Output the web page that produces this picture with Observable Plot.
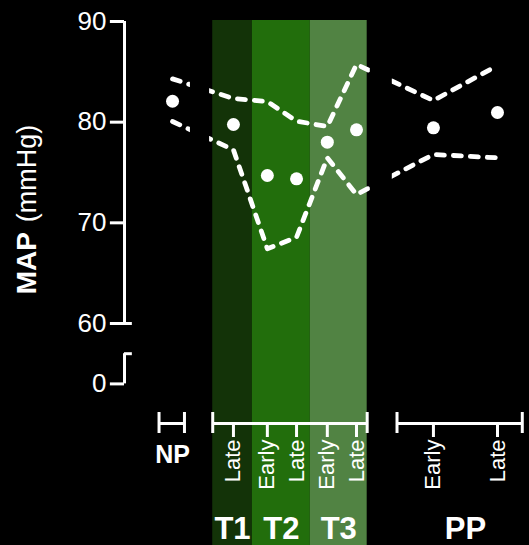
<!DOCTYPE html>
<html><head><meta charset="utf-8">
<script src="https://cdn.jsdelivr.net/npm/d3@7"></script>
<script src="https://cdn.jsdelivr.net/npm/@observablehq/plot@0.6"></script>
<style>html,body{margin:0;padding:0;background:#000;}</style>
</head><body><div id="chart"></div>
<script>
// ---- data ----
const stages = ["NP", "T1 Late", "T2 Early", "T2 Late", "T3 Early", "T3 Late", "PP Early", "PP Late"];
const tickLabels = ["", "Late", "Early", "Late", "Early", "Late", "Early", "Late"];
const groups = ["NP", "T1", "T2", "T2", "T3", "T3", "PP", "PP"];
const position = [1.53, 3.47, 4.55, 5.48, 6.46, 7.39, 9.84, 11.88];
const meanMAP = [82.08, 79.77, 74.70, 74.37, 78.01, 79.24, 79.44, 80.96];
const upperMAP = [84.3, 82.35, 82.05, 80.1, 79.57, 85.73, 82.15, 85.63];
const lowerMAP = [80.07, 77.25, 67.42, 68.57, 76.46, 72.81, 76.79, 76.46];
const trimesters = ["T1", "T2", "T3"];
const trimesterStart = [2.81, 4.07, 5.92];
const trimesterEnd = [4.07, 5.92, 7.73];
const trimesterColors = ["#133308", "#226e0c", "#518343"];
const yTicks = [0, 60, 70, 80, 90];
const yBreak = 5;
const axisSegStart = [1.10, 2.81, 8.68];
const axisSegEnd = [1.91, 7.73, 12.67];
const maskStart = [2.10, 7.83];
const maskEnd = [2.71, 8.53];

// ---- tables ----
const rows = stages.map((s, i) => ({stage: s, pos: position[i], mean: meanMAP[i], upper: upperMAP[i], lower: lowerMAP[i], tick: tickLabels[i], group: groups[i]}));
const bands = trimesters.map((t, i) => ({t, x1: trimesterStart[i], x2: trimesterEnd[i], color: trimesterColors[i]}));
const segments = axisSegStart.map((s, i) => ({x1: s, x2: axisSegEnd[i]}));
const caps = segments.flatMap(s => [s.x1, s.x2]);
const masks = maskStart.map((s, i) => ({x1: s, x2: maskEnd[i]}));
const axisTicks = rows.filter(r => r.tick);
const npLabel = [{text: "NP", x: position[0]}];
const bigLabels = [
  ...bands.map(b => ({text: b.t, x: (b.x1 + b.x2) / 2})),
  {text: "PP", x: d3.mean(rows.filter(r => r.group === "PP"), r => r.pos)}
];

// broken y axis: 0..yBreak is squeezed just below 60
const brokenY = v => (v >= 60 ? v : 54 + v * 3 / yBreak);

const white = "#fff";
const lineStyle = {stroke: white, strokeWidth: 4.8, strokeDasharray: "8,9", strokeLinecap: "round", strokeLinejoin: "round"};

const chart = Plot.plot({
  width: 529, height: 545,
  marginTop: 20, marginBottom: 0, marginLeft: 124, marginRight: 0,
  style: {background: "#000", color: white, fontFamily: "'Liberation Sans', Arial, sans-serif"},
  x: {domain: [0, 12.9], axis: null},
  y: {domain: [60, 90], range: [323, 21], transform: brokenY, axis: null},
  marks: [
    Plot.rect(bands, {x1: "x1", x2: "x2", fill: "color"}),
    Plot.line(rows, {x: "pos", y: "upper", ...lineStyle}),
    Plot.line(rows, {x: "pos", y: "lower", ...lineStyle}),
    Plot.rect(masks, {x1: "x1", x2: "x2", fill: "#000"}),
    Plot.dot(rows, {x: "pos", y: "mean", r: 6.5, fill: white}),
    // y axis
    Plot.ruleY(yTicks, {y: d => d, x1: -0.45, x2: 0, stroke: white, strokeWidth: 3}),
    Plot.text(yTicks, {y: d => d, text: d => String(d), frameAnchor: "left", dx: -18, textAnchor: "end", lineAnchor: "middle", fontSize: 26, fill: white}),
    Plot.ruleX([{y1: 60, y2: 90}, {y1: 0, y2: yBreak}], {x: 0, y1: "y1", y2: "y2", stroke: white, strokeWidth: 3}),
    Plot.ruleY([60, yBreak], {x1: 0, x2: 0.25, stroke: white, strokeWidth: 3}),
    // x axis
    Plot.rect(segments, {x1: "x1", x2: "x2", fill: white, insetTop: 402, insetBottom: 120}),
    Plot.ruleX(caps, {x: d => d, stroke: white, strokeWidth: 3, insetTop: 392, insetBottom: 112}),
    Plot.ruleX(axisTicks, {x: "pos", stroke: white, strokeWidth: 3, insetTop: 403, insetBottom: 108}),
    Plot.text(axisTicks, {x: "pos", text: "tick", frameAnchor: "top", dy: 419, rotate: -90, textAnchor: "end", lineAnchor: "middle", fontSize: 22, fill: white}),
    Plot.text(npLabel, {x: "x", text: "text", frameAnchor: "top", dy: 434.7, lineAnchor: "middle", fontSize: 25, fontWeight: "bold", fill: white}),
    Plot.text(bigLabels, {x: "x", text: "text", frameAnchor: "bottom", dy: -7, lineAnchor: "bottom", fontSize: 31, fontWeight: "bold", fill: white}),
    Plot.text(["MAP (mmHg)"], {text: d => d, frameAnchor: "left", dx: -97, dy: -73.5, rotate: -90, textAnchor: "middle", lineAnchor: "middle", fontSize: 26, fill: white})
  ]
});

for (const t of chart.querySelectorAll("text")) {
  if (t.textContent === "MAP (mmHg)") {
    t.textContent = "";
    const ns = "http://www.w3.org/2000/svg";
    const a = document.createElementNS(ns, "tspan");
    a.setAttribute("font-weight", "bold");
    a.setAttribute("font-size", "28");
    a.textContent = "MAP";
    const b = document.createElementNS(ns, "tspan");
    b.setAttribute("dx", "10");
    b.setAttribute("font-size", "27");
    b.textContent = "(mmHg)";
    t.appendChild(a); t.appendChild(b);
  }
}
document.getElementById("chart").appendChild(chart);
</script>
</body></html>
